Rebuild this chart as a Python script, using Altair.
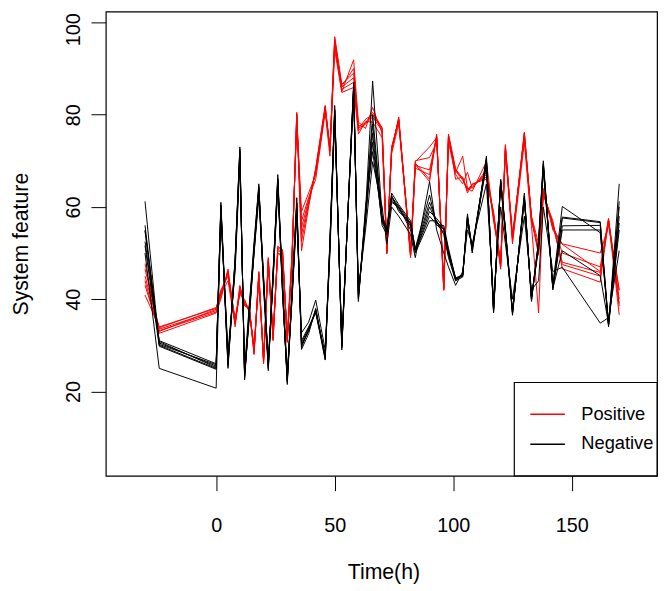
import altair as alt
import pandas as pd

# Time points (h)
times = [-30, -24, 0, 2, 5, 8, 10, 12, 14, 16,
         18, 20, 22, 24, 26, 28, 30, 32, 34, 36,
         39, 42, 46, 48, 50, 53, 58, 60, 63, 66,
         70, 72, 74, 77, 82, 84, 90, 93, 96, 98,
         101, 104, 106, 108, 114, 117, 120, 122, 125, 130,
         133, 136, 138, 142, 146, 162, 165.5, 170]

# Positive (red) trajectories
pos_1 = [45, 33.5, 37.5, 41, 46, 34, 42, 39, 38, 28,
         45.5, 26, 48, 31, 51, 50, 30.6, 48.4, 80.5, 54,
         61, 68, 81.6, 72.6, 96, 86, 88, 77, 78, 80,
         77, 50, 72.6, 79, 49.5, 69.5, 66, 75.3, 42, 75.5,
         68, 66, 63.5, 64.5, 67, 58, 47, 73, 53, 76,
         57.6, 50, 63, 56, 48, 45.8, 57.3, 40]
pos_2 = [47.7, 33, 37.8, 42, 45, 36, 41, 40, 37, 30,
         44, 27, 47, 33, 50, 49, 32, 50, 78, 57,
         62, 66, 80.5, 71, 94, 85, 91.9, 78.4, 77, 81.6,
         76, 51, 71.5, 78, 50.5, 70, 70.7, 74, 44, 74,
         67, 65, 67.5, 64, 68, 57, 48, 72, 54, 75,
         58, 52, 64, 55, 52, 50, 56, 42]
pos_3 = [44, 32.6, 37, 40, 46.2, 35, 42, 38.5, 38, 29,
         45, 27.5, 49, 32, 51.5, 50.5, 31, 49, 79, 59,
         63, 67, 81, 73, 95, 84.8, 85.9, 75.8, 78.5, 78.4,
         75, 49.8, 73, 78.7, 49, 68.4, 67, 75.5, 41.9, 75.5,
         66, 66.5, 63, 65, 66, 59, 46.5, 72, 52, 74,
         56, 37, 62.6, 57, 46.6, 43.7, 57.3, 36.6]
pos_4 = [40.9, 34, 38, 41.2, 44, 34.5, 43, 39, 37.5, 28.5,
         46, 26.5, 48.5, 31.5, 50, 49.5, 31, 48, 80, 50.5,
         60, 68.4, 82, 72, 96.9, 86.6, 89, 77, 79, 80,
         76.9, 52, 72, 79.5, 50, 69.8, 73, 75, 43, 75,
         67.5, 71, 64, 63.4, 69.8, 57.5, 48.5, 73.5, 53.5, 76,
         57, 51, 63.5, 55.5, 51.9, 46, 57, 41.9]
pos_5 = [46.5, 33.8, 38.2, 41.5, 45.5, 35, 41.5, 39.5, 37.8, 29,
         45, 26.8, 48.2, 31.8, 50.5, 50.2, 31.5, 49.2, 79.5, 55.5,
         61.5, 67.5, 81.2, 72.2, 95.5, 85.5, 87, 76.5, 78, 79.5,
         76.5, 50.5, 72.8, 78.8, 49.8, 69, 68, 75, 42.5, 75.2,
         67.8, 65.8, 64, 64.2, 67.5, 58.5, 47.5, 72.5, 53.2, 75.5,
         57.2, 50.5, 63.2, 56.2, 50, 47, 57.5, 39]
pos_6 = [43, 33.2, 37.2, 40.5, 46.5, 34.8, 42.5, 38.8, 38.2, 28.2,
         45.8, 26.2, 48.8, 31.2, 51.2, 50.8, 30.8, 48.8, 80.2, 52.5,
         60.5, 68.2, 81.8, 72.8, 96.5, 86.2, 90, 77.5, 78.2, 80.5,
         77.2, 50.2, 72.2, 79.2, 49.2, 69.2, 65.5, 75.8, 42.2, 75.8,
         68.2, 66.2, 63.8, 64.8, 66.5, 58.2, 47.2, 73.2, 52.8, 76.2,
         57.8, 49.5, 62.8, 56.5, 47.5, 45, 57, 38.5]

# Negative (black) trajectories
neg_1 = [55, 30.5, 25.5, 60, 26, 48, 72, 23.3, 36, 50,
         64, 45, 25.2, 45, 65.8, 42, 22.3, 40, 60.5, 30,
         33, 37.6, 27.3, 52, 80.9, 29.8, 86, 40.5, 58, 78,
         57, 55, 62, 59.8, 56.2, 50.5, 60, 56.6, 55, 50,
         44.4, 45.1, 57.6, 50.9, 70, 37.6, 65.5, 55, 37, 62,
         40, 52, 69, 42.6, 57.6, 56.6, 34.4, 58]
neg_2 = [61.2, 30, 25, 59, 27, 47, 71, 24, 37, 51,
         63, 44, 26, 44, 65, 41, 23, 41, 59, 31,
         34, 37, 28, 53, 80, 30.5, 85, 41, 57, 76,
         56, 54, 61, 60, 55, 50, 57, 57, 54, 49,
         44, 45.5, 57, 51, 69, 38, 65, 54, 37.5, 61.5,
         40.5, 51, 68, 43, 60.1, 54.4, 34.8, 61.2]
neg_3 = [51.6, 29.8, 24.8, 60.5, 25, 49, 72.5, 23, 38.5, 52.5,
         64.5, 43, 25, 46, 66, 43, 22, 43, 61, 29.1,
         32.5, 38, 27, 51, 81, 29.5, 86.5, 40, 59, 87.3,
         58, 55.5, 62.5, 59, 56.5, 51, 62.6, 56, 56, 51,
         44.5, 45, 58, 50.5, 70.5, 37, 66, 55.5, 36.9, 62.5,
         39.8, 52.5, 69.5, 42, 55.9, 56, 34, 65]
neg_4 = [50, 25, 20.7, 58, 28.6, 46, 70, 25, 39, 50,
         62, 44, 27, 44, 64, 44, 24, 40, 58, 32.7,
         35, 39.8, 29, 50, 79, 31, 84.8, 42, 55, 69.8,
         60, 52, 60, 58, 54, 49, 65.5, 55, 50, 47,
         43, 46, 55, 52, 65, 40, 60, 52, 40, 58,
         42, 44, 60, 46, 46.9, 34.8, 36, 50.5]
neg_5 = [54.8, 31, 26, 61, 26.5, 48.5, 73, 22.5, 37.5, 51.5,
         65, 42.5, 24.5, 45.5, 67, 42.5, 21.5, 41.5, 62, 29.5,
         33.5, 37.2, 26.8, 52.5, 82, 29, 87, 39.5, 60, 72,
         57.5, 54.5, 63, 60.5, 57, 50.2, 59, 57.5, 55.5, 50.5,
         44, 44.8, 58.5, 50, 71, 37.2, 65.8, 54.5, 36.5, 63,
         39.5, 53, 70, 42.3, 50.5, 45.1, 34.6, 55]
neg_6 = [56, 30.2, 25.8, 60.2, 26.2, 48.2, 72.2, 23.5, 36.5, 50.5,
         64.2, 44.5, 25.5, 45.2, 66.2, 42.2, 22.5, 40.5, 60.8, 30.2,
         33.2, 37.8, 27.5, 52.2, 81.2, 29.6, 86.2, 40.8, 58.5, 80,
         57.2, 55.2, 62.2, 60.2, 56.5, 50.8, 61, 56.8, 55.2, 50.2,
         44.6, 45.3, 57.8, 51.2, 70.2, 37.8, 65.6, 55.2, 37.2, 62.2,
         40.2, 52.2, 69.2, 42.8, 57.8, 56.8, 34.5, 60]
neg_7 = [52.5, 30.8, 25.2, 59.5, 25.5, 47.5, 71.5, 23.8, 37.2, 51.2,
         63.5, 43.5, 25.8, 44.5, 65.5, 41.5, 22.8, 41.2, 59.5, 30.5,
         33.8, 37.4, 27.8, 51.5, 80.5, 30.2, 85.5, 40.2, 57.5, 74,
         56.5, 54.8, 61.5, 59.5, 55.8, 50.3, 58, 56.2, 54.5, 49.5,
         44.2, 45.2, 57.2, 50.8, 69.5, 37.5, 65.2, 54.8, 37.2, 61.8,
         40.3, 51.5, 68.5, 42.5, 55, 55, 34.2, 56.5]

x_ticks = [0, 50, 100, 150]
y_ticks = [20, 40, 60, 80, 100]
groups = ["Positive", "Negative"]
colors = ["#ff0000", "#000000"]

series = {
    ("Positive", "p1"): pos_1, ("Positive", "p2"): pos_2,
    ("Positive", "p3"): pos_3, ("Positive", "p4"): pos_4,
    ("Positive", "p5"): pos_5, ("Positive", "p6"): pos_6,
    ("Negative", "n1"): neg_1, ("Negative", "n2"): neg_2,
    ("Negative", "n3"): neg_3, ("Negative", "n4"): neg_4,
    ("Negative", "n5"): neg_5, ("Negative", "n6"): neg_6,
    ("Negative", "n7"): neg_7,
}
rows = []
for (grp, sid), vals in series.items():
    assert len(vals) == len(times), sid
    for t, v in zip(times, vals):
        rows.append({"t": t, "v": v, "group": grp, "series": sid})
df = pd.DataFrame(rows)

FONT = "Liberation Sans"
W, H = 558, 470

x_enc = alt.X("t:Q",
              scale=alt.Scale(domain=[-46.54, 185.96], nice=False, zero=False),
              axis=alt.Axis(values=x_ticks, format="d", title="Time(h)",
                            grid=False, domain=False, tickColor="black",
                            tickSize=15, tickWidth=1, labelPadding=41,
                            labelBaseline="alphabetic",
                            labelFont=FONT, labelFontSize=20, labelColor="black",
                            titleFont=FONT, titleFontSize=21.5, titleFontWeight="normal",
                            titleColor="black", titleBaseline="alphabetic",
                            titleX=W / 2 + 2, titleY=104))
y_enc = alt.Y("v:Q",
              scale=alt.Scale(domain=[1.7, 102.36], nice=False, zero=False),
              axis=alt.Axis(values=y_ticks, format="d", title="System feature",
                            grid=False, domain=False, tickColor="black",
                            tickSize=15, tickWidth=1, labelPadding=18,
                            labelAngle=-90, labelAlign="center", labelBaseline="middle",
                            labelOffset={"condition": {"test": "datum.value == 100", "value": 7},
                                         "value": 0},
                            labelFont=FONT, labelFontSize=20, labelColor="black",
                            titleFont=FONT, titleFontSize=21.5, titleFontWeight="normal",
                            titleColor="black", titleAngle=-90, titleAlign="center",
                            titleBaseline="middle", titleX=-85, titleY=H / 2))
color_enc = alt.Color("group:N", scale=alt.Scale(domain=groups, range=colors), legend=None)

pos_lines = alt.Chart(df[df.group == "Positive"]).mark_line(strokeWidth=1, clip=True).encode(
    x=x_enc, y=y_enc, color=color_enc, detail="series:N")
neg_lines = alt.Chart(df[df.group == "Negative"]).mark_line(strokeWidth=1, clip=True).encode(
    x=x_enc, y=y_enc, color=color_enc, detail="series:N")

# legend box (bottom right, like R's legend("bottomright"))
leg_box = alt.Chart().mark_rect(fill="white", stroke="black", strokeWidth=1.2).encode(
    x=alt.value(413.5), x2=alt.value(W), y=alt.value(375.5), y2=alt.value(H))
leg_pos = alt.Chart().mark_rule(color=colors[0], strokeWidth=1.5).encode(
    x=alt.value(429.7), x2=alt.value(464.7), y=alt.value(407.7))
leg_neg = alt.Chart().mark_rule(color=colors[1], strokeWidth=1.5).encode(
    x=alt.value(429.7), x2=alt.value(464.7), y=alt.value(438))
txt_pos = alt.Chart().mark_text(text=groups[0], align="left", baseline="alphabetic",
                                font=FONT, fontSize=18.5, color="black").encode(
    x=alt.value(481.3), y=alt.value(413.7))
txt_neg = alt.Chart().mark_text(text=groups[1], align="left", baseline="alphabetic",
                                font=FONT, fontSize=18.5, color="black").encode(
    x=alt.value(481.3), y=alt.value(443))

chart = alt.layer(pos_lines, neg_lines, leg_box, leg_pos, leg_neg, txt_pos, txt_neg).properties(
    width=W, height=H,
    autosize=alt.AutoSizeParams(type="none"),
    padding={"left": 99, "top": 0, "right": 4, "bottom": 112},
    background="white",
).configure_view(stroke="black", strokeWidth=1.2)

chart.save("out.html", embed_options={"renderer": "svg", "actions": False})
